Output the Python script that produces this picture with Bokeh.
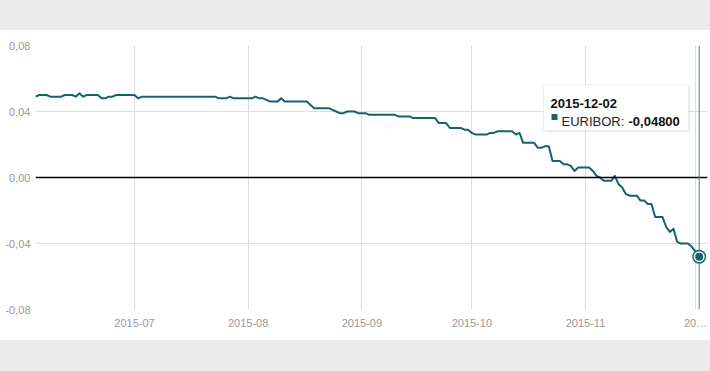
import pandas as pd
from bokeh.plotting import figure
from bokeh.models import (FixedTicker, Span, Label, BoxAnnotation, ColumnDataSource, Range1d)
from bokeh.embed import file_html
from bokeh.resources import INLINE

# ---------------- data ----------------
START = "2015-06-04"
END = "2015-12-02"
SERIES_NAME = "EURIBOR"

jun = [0.049, 0.050, 0.050, 0.050, 0.049, 0.049, 0.049, 0.049, 0.050, 0.050,
       0.050, 0.049, 0.051, 0.049, 0.050, 0.050, 0.050, 0.050, 0.048, 0.048,
       0.049, 0.049, 0.050, 0.050, 0.050, 0.050, 0.050]
jul = [0.050, 0.048, 0.049, 0.049, 0.049, 0.049, 0.049, 0.049, 0.049, 0.049,
       0.049, 0.049, 0.049, 0.049, 0.049, 0.049, 0.049, 0.049, 0.049, 0.049,
       0.049, 0.049, 0.049, 0.048, 0.048, 0.048, 0.049, 0.048, 0.048, 0.048,
       0.048]
aug = [0.048, 0.048, 0.049, 0.048, 0.048, 0.047, 0.046, 0.046, 0.046, 0.048,
       0.046, 0.046, 0.046, 0.046, 0.046, 0.046, 0.046, 0.044, 0.042, 0.042,
       0.042, 0.042, 0.042, 0.041, 0.040, 0.039, 0.039, 0.040, 0.040, 0.040,
       0.039]
sep = [0.039, 0.039, 0.038, 0.038, 0.038, 0.038, 0.038, 0.038, 0.038, 0.038,
       0.037, 0.037, 0.037, 0.037, 0.036, 0.036, 0.036, 0.036, 0.036, 0.036,
       0.036, 0.033, 0.033, 0.033, 0.030, 0.030, 0.030, 0.030, 0.029, 0.029]
oct_ = [0.027, 0.026, 0.026, 0.026, 0.026, 0.027, 0.027, 0.028, 0.028, 0.028,
        0.028, 0.028, 0.026, 0.027, 0.021, 0.021, 0.021, 0.021, 0.018, 0.018,
        0.019, 0.019, 0.010, 0.010, 0.010, 0.008, 0.008, 0.007, 0.004, 0.006,
        0.006]
nov = [0.006, 0.006, 0.004, 0.001, 0.000, -0.002, -0.002, -0.002, 0.001, -0.004,
       -0.006, -0.010, -0.011, -0.011, -0.011, -0.014, -0.014, -0.016, -0.016, -0.024,
       -0.024, -0.024, -0.030, -0.033, -0.031, -0.039, -0.040, -0.040, -0.040, -0.042]
dec = [-0.045, -0.048]

values = jun + jul + aug + sep + oct_ + nov + dec
dates = pd.date_range(START, END, freq="D")
assert len(dates) == len(values)

X_TICKS = ["2015-07-01", "2015-08-01", "2015-09-01", "2015-10-01", "2015-11-01", "2015-12-01"]
X_TICK_LABELS = ["2015-07", "2015-08", "2015-09", "2015-10", "2015-11", "20\u2026"]
Y_TICKS = [-0.08, -0.04, 0.0, 0.04, 0.08]
Y_TICK_LABELS = ["-0,08", "-0,04", "0,00", "0,04", "0,08"]

# ---------------- styling ----------------
TEAL = "#16636e"
GRID = "#dddddd"
LABEL = "#9a9a9a"
BAND = "#ececec"
FONT = "Liberation Sans"
DAY = 86400000.0
PX_PER_DAY = 3.6667


def ms(t):
    return pd.Timestamp(t).value / 1e6


W, H = 710, 371
LEFT, RIGHT, TOP, BOTTOM = 35, 3, 45, 62
frame_w = W - LEFT - RIGHT

x_start = ms(START)
x_end = x_start + frame_w / PX_PER_DAY * DAY

p = figure(width=W, height=H, x_axis_type="datetime",
           x_range=Range1d(x_start, x_end), y_range=Range1d(-0.08, 0.08),
           output_backend="svg", toolbar_location=None,
           min_border_left=LEFT, min_border_right=RIGHT, min_border_top=TOP,
           min_border_bottom=BOTTOM)
p.outline_line_color = None
p.background_fill_color = "white"
p.border_fill_color = "white"
p.border_fill_alpha = 0.0
# grey page bands above and below the white chart card
p.styles = {
    "background": f"linear-gradient(to bottom, {BAND} 0px, {BAND} 30px, white 30px, "
                  f"white 340px, {BAND} 340px, {BAND} {H}px)"
}

xt = [ms(t) for t in X_TICKS]
p.xaxis.ticker = FixedTicker(ticks=xt)
p.xaxis.major_label_overrides = {k: v for k, v in zip(xt, X_TICK_LABELS)}
p.yaxis.ticker = FixedTicker(ticks=Y_TICKS)
p.yaxis.major_label_overrides = {k: v for k, v in zip(Y_TICKS, Y_TICK_LABELS)}
p.xgrid.ticker = FixedTicker(ticks=xt)
p.ygrid.ticker = FixedTicker(ticks=Y_TICKS)

for ax in (p.xaxis, p.yaxis):
    ax.axis_line_color = None
    ax.major_tick_line_color = None
    ax.minor_tick_line_color = None
    ax.major_tick_out = 0
    ax.major_tick_in = 0
    ax.major_label_text_color = LABEL
    ax.major_label_text_font = FONT
    ax.major_label_text_font_size = "11px"
p.xaxis.major_label_standoff = 7
p.yaxis.major_label_standoff = 5

for g in (p.xgrid, p.ygrid):
    g.grid_line_color = GRID
    g.grid_line_width = 1

# zero line
p.add_layout(Span(location=0, dimension="width", line_color="black", line_width=1.5))

# series
p.line(x=dates, y=values, line_color=TEAL, line_width=2, line_join="round")

# hover crosshair and marker on the last point
last = ColumnDataSource(dict(x=[dates[-1]], y=[values[-1]]))
p.add_layout(Span(location=ms(dates[-1]), dimension="height",
                  line_color="#4f7e87", line_width=1))
p.scatter("x", "y", source=last, size=14, fill_color=TEAL, line_color=None, level="overlay")
p.scatter("x", "y", source=last, size=11, fill_color="white", line_color=None, level="overlay")
p.scatter("x", "y", source=last, size=8, fill_color=TEAL, line_color=None, level="overlay")


# tooltip (positions expressed in page pixels)
def dx(px):
    return x_start + (px - LEFT) / PX_PER_DAY * DAY


def dy(py):
    return (177 - py) / 1650.0


p.add_layout(BoxAnnotation(left=dx(545), right=dx(690), top=dy(86), bottom=dy(132),
                           fill_color="black", fill_alpha=0.06, line_color=None))
p.add_layout(BoxAnnotation(left=dx(543), right=dx(688), top=dy(84), bottom=dy(130),
                           fill_color="white", fill_alpha=0.97,
                           line_color="#c6c6c6", line_width=1))
p.add_layout(BoxAnnotation(left=dx(551), right=dx(557), top=dy(113.5), bottom=dy(119.5),
                           fill_color=TEAL, fill_alpha=1, line_color=None))

date_txt = dates[-1].strftime("%Y-%m-%d")
val_txt = f"{values[-1]:.5f}".replace(".", ",")
p.add_layout(Label(x=dx(550), y=dy(102.5), text=date_txt, text_font=FONT,
                   text_font_size="13px", text_font_style="bold", text_color="#111111",
                   text_baseline="alphabetic", text_align="left"))
p.add_layout(Label(x=dx(561), y=dy(120.5), text=SERIES_NAME + ":", text_font=FONT,
                   text_font_size="13px", text_color="#222222",
                   text_baseline="alphabetic", text_align="left"))
p.add_layout(Label(x=dx(628), y=dy(120.5), text=val_txt, text_font=FONT,
                   text_font_size="13px", text_font_style="bold", text_color="#111111",
                   text_baseline="alphabetic", text_align="left"))

open("out.html", "w").write(file_html(p, INLINE))
